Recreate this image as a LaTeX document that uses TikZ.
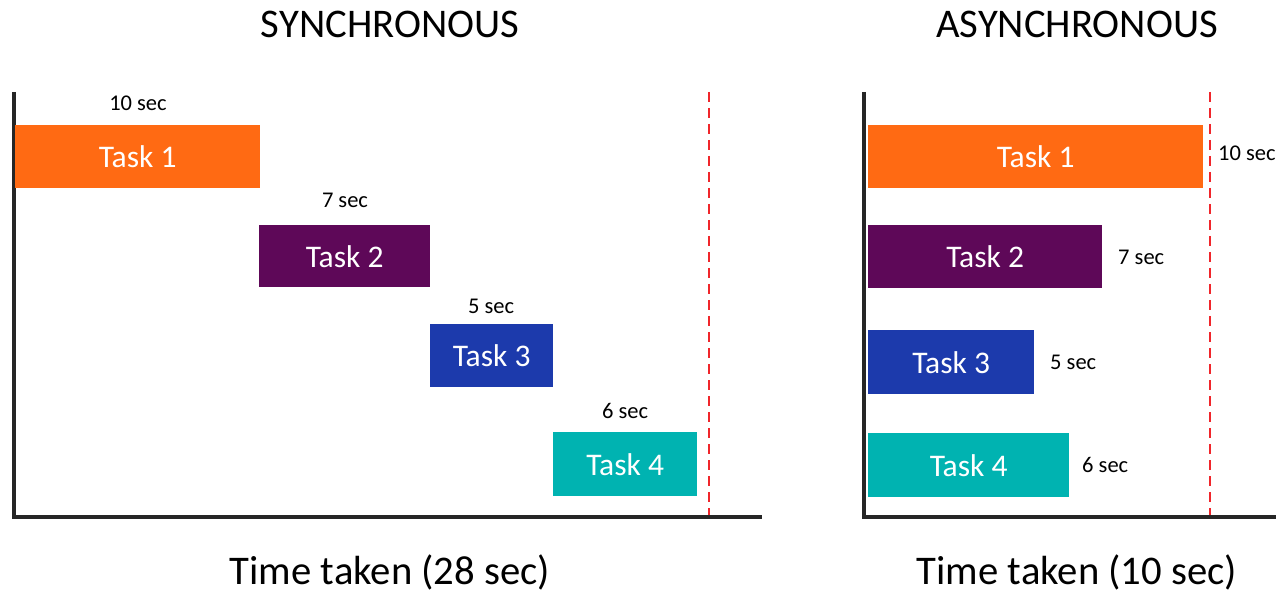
\documentclass[tikz,border=0pt]{standalone}
\usepackage{fontspec}
\setmainfont{Carlito}
\definecolor{cOrange}{HTML}{FF6A13}
\definecolor{cPurple}{HTML}{5E0858}
\definecolor{cBlue}{HTML}{1C3AAC}
\definecolor{cTeal}{HTML}{00B3B1}
\definecolor{cAxis}{HTML}{262626}
\definecolor{cRed}{HTML}{F0262B}
\begin{document}
\begin{tikzpicture}[x=1pt,y=-1pt,
  bar/.style={anchor=north west,inner sep=0pt,draw=none,text=white,font=\fontsize{31.5}{31.5}\selectfont},
  seclbl/.style={inner sep=0pt,font=\fontsize{22.5}{22.5}\selectfont},
  title/.style={anchor=base,inner sep=0pt,font=\fontsize{40.7}{40.7}\selectfont},
  axis/.style={draw=cAxis,line width=4pt},
  limit/.style={draw=cRed,line width=2.2pt,dash pattern=on 10pt off 6pt}]
\useasboundingbox (0,0) rectangle (1276,593);
% Titles
\node[title] (t1) at (390,38) {SYNCHRONOUS};
\node[title] (t2) at (1077,38) {ASYNCHRONOUS};
\node[title] (b1) at (390,584) {Time taken (28 sec)};
\node[title] (b2) at (1077,584) {Time taken (10 sec)};
% Left axes
\coordinate (la) at (14,92);
\coordinate (lo) at (14,517);
\coordinate (lx) at (762,517);
\draw[axis] (la) -- (lo) -- (lx);
\coordinate (ld1) at (709,92);
\coordinate (ld2) at (709,515);
\draw[limit] (ld1) -- (ld2);
% Left bars
\node[bar,fill=cOrange,minimum width=245pt,minimum height=63pt] (s1) at (15,125) {Task 1};
\node[bar,fill=cPurple,minimum width=171pt,minimum height=62pt] (s2) at (259,225) {Task 2};
\node[bar,fill=cBlue,minimum width=123pt,minimum height=63pt] (s3) at (430,324) {Task 3};
\node[bar,fill=cTeal,minimum width=144pt,minimum height=64pt] (s4) at (553,432) {Task 4};
\node[seclbl,anchor=base] (sl1) at (138,111) {10 sec};
\node[seclbl,anchor=base] (sl2) at (345,208) {7 sec};
\node[seclbl,anchor=base] (sl3) at (491,313) {5 sec};
\node[seclbl,anchor=base] (sl4) at (625,418) {6 sec};
% Right axes
\coordinate (ra) at (864,92);
\coordinate (ro) at (864,517);
\coordinate (rx) at (1280,517);
\draw[axis] (ra) -- (ro) -- (rx);
\coordinate (rd1) at (1210,92);
\coordinate (rd2) at (1210,515);
\draw[limit] (rd1) -- (rd2);
% Right bars
\node[bar,fill=cOrange,minimum width=335pt,minimum height=63pt] (a1) at (868,125) {Task 1};
\node[bar,fill=cPurple,minimum width=234pt,minimum height=63pt] (a2) at (868,225) {Task 2};
\node[bar,fill=cBlue,minimum width=166pt,minimum height=64pt] (a3) at (868,330) {Task 3};
\node[bar,fill=cTeal,minimum width=201pt,minimum height=64pt] (a4) at (868,433) {Task 4};
\node[seclbl,anchor=base west] (al1) at (1218,161) {10 sec};
\node[seclbl,anchor=base west] (al2) at (1118,265) {7 sec};
\node[seclbl,anchor=base west] (al3) at (1050,369) {5 sec};
\node[seclbl,anchor=base west] (al4) at (1082,472) {6 sec};
\end{tikzpicture}
\end{document}
